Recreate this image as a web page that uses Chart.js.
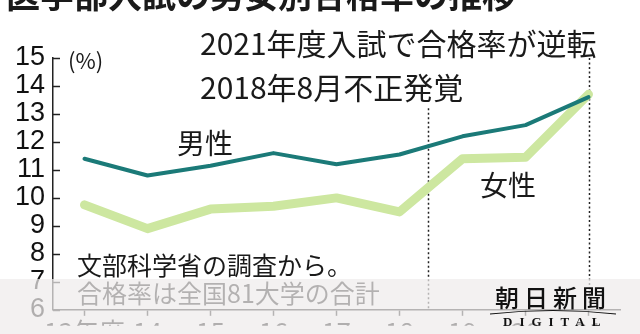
<!DOCTYPE html>
<html lang="ja">
<head>
<meta charset="utf-8">
<title>医学部入試の男女別合格率の推移</title>
<script src="https://cdn.jsdelivr.net/npm/chart.js@4"></script>
<style>
  html, body { margin: 0; padding: 0; background: #fff; }
  #wrap { width: 640px; height: 334px; }
</style>
</head>
<body>
<div id="wrap"><canvas id="passRateChart" width="640" height="334"></canvas></div>
<script>
// 医学部入試の男女別合格率（%）
const years = ['13年度', '14', '15', '16', '17', '18', '19', '20', '21'];
const maleRates = [11.4, 10.8, 11.15, 11.6, 11.2, 11.55, 12.2, 12.6, 13.6];
const femaleRates = [9.75, 8.9, 9.6, 9.7, 10.0, 9.5, 11.4, 11.45, 13.7];
const yTicks = [6, 7, 8, 9, 10, 11, 12, 13, 14, 15];

// dotted event lines: category position (Aug 2018, FY2021) and top value
const eventIndexes = [5.45, 8];
const eventTops = [13.2, 15];

const cjk = '"Noto Sans CJK JP", sans-serif';

const decorations = {
  id: 'decorations',
  beforeDatasetsDraw(chart) {
    const { ctx, scales: { x, y } } = chart;

    // dotted lines for the events
    ctx.save();
    ctx.strokeStyle = '#222';
    ctx.lineWidth = 1.5;
    ctx.setLineDash([2, 2.5]);
    eventIndexes.forEach((idx, i) => {
      const px = Math.round(x.getPixelForValue(idx)) + 0.5;
      ctx.beginPath();
      ctx.moveTo(px, y.getPixelForValue(eventTops[i]));
      ctx.lineTo(px, y.bottom);
      ctx.stroke();
    });
    ctx.restore();

    // y ticks point inwards
    ctx.save();
    ctx.strokeStyle = '#222';
    ctx.lineWidth = 1.5;
    yTicks.forEach(v => {
      const py = Math.round(y.getPixelForValue(v)) + 0.5;
      ctx.beginPath();
      ctx.moveTo(x.left, py);
      ctx.lineTo(x.left + 7, py);
      ctx.stroke();
    });
    ctx.restore();

    // unit label
    ctx.save();
    ctx.fillStyle = '#1a1a1a';
    ctx.textBaseline = 'middle';
    ctx.font = `22px ${cjk}`;
    ctx.fillText('(%)', x.left + 15, y.getPixelForValue(15) + 3);
    ctx.restore();
  },
  afterDatasetsDraw(chart) {
    const ctx = chart.ctx;
    ctx.save();
    ctx.fillStyle = '#1a1a1a';
    ctx.textBaseline = 'middle';
    ctx.textAlign = 'left';

    ctx.font = `bold 34px ${cjk}`;
    ctx.fillText('医学部入試の男女別合格率の推移', 6, -5);

    ctx.font = `30px ${cjk}`;
    ctx.fillText('2021年度入試で合格率が逆転', 200, 44);
    ctx.fillText('2018年8月不正発覚', 200, 88);

    ctx.textAlign = 'center';
    ctx.font = `28px ${cjk}`;
    ctx.fillText('男性', 205, 143);
    ctx.fillText('女性', 508, 185);

    ctx.textAlign = 'left';
    ctx.font = `25px ${cjk}`;
    ctx.fillText('文部科学省の調査から。', 77, 265);
    ctx.fillText('合格率は全国81大学の合計', 77, 293);
    ctx.restore();
  },
  afterDraw(chart) {
    const ctx = chart.ctx;
    ctx.save();
    // faded band at the bottom
    ctx.fillStyle = 'rgba(238, 235, 235, 0.72)';
    ctx.fillRect(0, 279, chart.width, chart.height - 279);

    // 朝日新聞 DIGITAL logo
    ctx.fillStyle = '#111';
    ctx.textBaseline = 'middle';
    ctx.textAlign = 'left';
    ctx.font = `500 24px ${cjk}`;
    ctx.letterSpacing = '5px';
    ctx.fillText('朝日新聞', 495, 298);

    ctx.strokeStyle = '#111';
    ctx.lineWidth = 1.2;
    ctx.beginPath();
    ctx.moveTo(490, 314);
    ctx.quadraticCurveTo(553, 307, 616, 314);
    ctx.stroke();

    ctx.font = 'bold 13px "Liberation Serif", serif';
    ctx.letterSpacing = '7px';
    ctx.fillText('DIGITAL', 503, 323);
    ctx.restore();
  }
};

const ctx = document.getElementById('passRateChart').getContext('2d');

new Chart(ctx, {
  type: 'line',
  data: {
    labels: years,
    datasets: [
      {
        label: '男性',
        data: maleRates,
        borderColor: '#1b7a78',
        borderWidth: 4,
        pointRadius: 0,
        tension: 0,
        borderCapStyle: 'round',
        borderJoinStyle: 'round'
      },
      {
        label: '女性',
        data: femaleRates,
        borderColor: '#cde7a0',
        borderWidth: 9,
        pointRadius: 0,
        tension: 0,
        borderCapStyle: 'round',
        borderJoinStyle: 'round'
      }
    ]
  },
  options: {
    responsive: false,
    animation: false,
    devicePixelRatio: 1,
    layout: {
      padding: { top: 58, right: 20, left: 0, bottom: 0 }
    },
    plugins: {
      legend: { display: false },
      tooltip: { enabled: false }
    },
    scales: {
      x: {
        offset: true,
        grid: {
          display: true,
          drawOnChartArea: false,
          drawTicks: true,
          tickLength: 6,
          tickColor: '#222',
          tickWidth: 1.5
        },
        border: { color: '#222', width: 1.5 },
        ticks: {
          color: '#111',
          padding: 1,
          maxRotation: 0,
          autoSkip: false,
          font: { family: cjk, size: 26 }
        },
        afterFit(scale) {
          scale.height = 16;
        }
      },
      y: {
        min: 6,
        max: 15,
        afterBuildTicks(scale) {
          scale.ticks = yTicks.map(v => ({ value: v }));
        },
        grid: {
          display: true,
          drawOnChartArea: false,
          drawTicks: false
        },
        border: { color: '#222', width: 1.5 },
        ticks: {
          autoSkip: false,
          color: '#111',
          padding: 8,
          font: { family: '"Liberation Sans", sans-serif', size: 27 }
        },
        afterFit(scale) {
          scale.width = 53;
        }
      }
    }
  },
  plugins: [decorations]
});
</script>
</body>
</html>
